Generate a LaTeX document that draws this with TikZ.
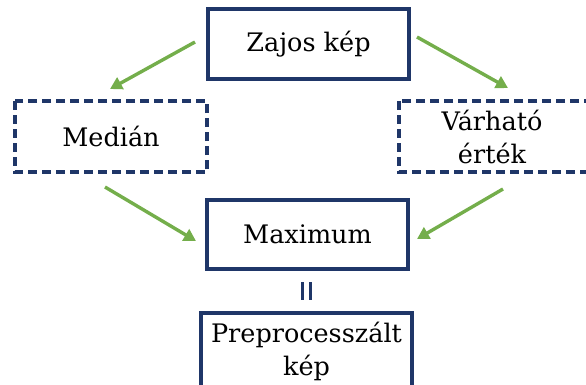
\documentclass[tikz,border=0pt]{standalone}
\usepackage{fontspec}
\setmainfont{DejaVu Serif}
\usetikzlibrary{arrows.meta}
\definecolor{navy}{HTML}{1F3668}
\definecolor{leaf}{HTML}{74AE4B}
\begin{document}
\begin{tikzpicture}[x=1pt,y=-1pt,
  box/.style={draw=navy,line width=3.5pt,fill=white,inner sep=0pt},
  dashbox/.style={box,dash pattern=on 9pt off 5pt},
  lbl/.style={font=\fontsize{25.5}{33}\selectfont,align=center},
  flow/.style={draw=leaf,line width=3.4pt,-{Triangle[length=12pt,width=13pt]}}]
\useasboundingbox (0,0) rectangle (586,384);
% boxes
\draw[box] (208,9) rectangle (409,79);
\node[lbl] (zaj) at (308.5,44) {Zajos kép};
\coordinate (zajL) at (195,42);
\coordinate (zajR) at (417,37);
\draw[dashbox] (15,101) rectangle (207,172);
\node[lbl] (med) at (111,136) {Medián};
\draw[dashbox] (399,101) rectangle (600,172);
\node[lbl] (var) at (492,137) {Várható\\érték};
\draw[box] (207,200) rectangle (408,269);
\node[lbl] (max) at (307.5,234) {Maximum};
\draw[box] (201,313) rectangle (412,396);
\node[lbl] (pre) at (306.5,351) {Preprocesszált\\kép};
% connector end points
\coordinate (medT) at (110,89);
\coordinate (varT) at (508,88);
\coordinate (medB) at (105,187);
\coordinate (varB) at (503,189);
\coordinate (maxL) at (196,241);
\coordinate (maxR) at (417,239);
% arrows
\draw[flow] (zajL) -- (medT);
\draw[flow] (zajR) -- (varT);
\draw[flow] (medB) -- (maxL);
\draw[flow] (varB) -- (maxR);
% equality between Maximum and the result
\coordinate (eqT) at (306.5,282);
\coordinate (eqB) at (306.5,300);
\draw[navy,line width=3.4pt] ([xshift=-3.8pt]eqT) -- ([xshift=-3.8pt]eqB);
\draw[navy,line width=3.4pt] ([xshift=3.8pt]eqT) -- ([xshift=3.8pt]eqB);
\end{tikzpicture}
\end{document}
